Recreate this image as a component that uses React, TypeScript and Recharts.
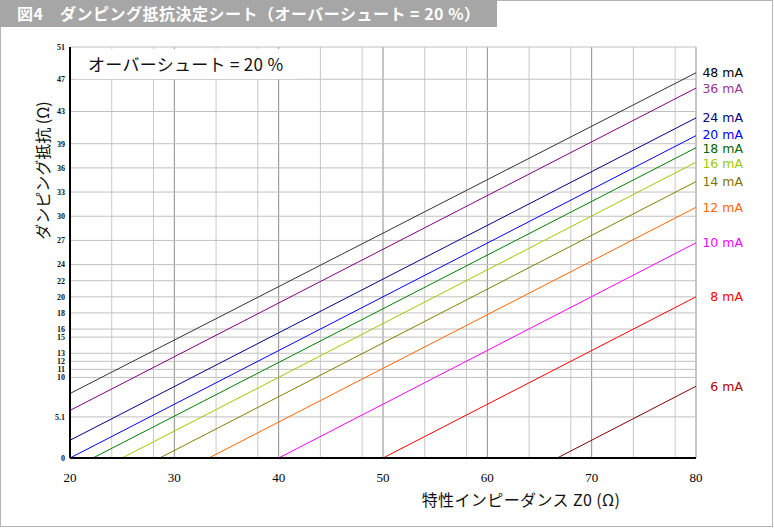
import React from 'react';
import { LineChart, Line, XAxis, YAxis, CartesianGrid, LabelList, Label } from 'recharts';

// overshoot 20 % damping resistor sheet
const currents = ['48 mA', '36 mA', '24 mA', '20 mA', '18 mA', '16 mA', '14 mA', '12 mA', '10 mA', '8 mA', '6 mA'];
const lineColors = ['#333333', '#800080', '#000080', '#0000ff', '#008000', '#99cc00', '#808000', '#ff6600', '#ff00ff', '#ff0000', '#800000'];
const labelColors = ['#000000', '#993399', '#000080', '#0000ff', '#006600', '#99cc00', '#807000', '#ff6600', '#ff00ff', '#ff0000', '#b00000'];
const startZ = [20, 20, 20, 20, 22.2, 25, 28.6, 33.3, 40, 50, 66.7];
const startR = [8.0, 5.9, 2.2, 0, 0, 0, 0, 0, 0, 0, 0];
const endZ = [80, 80, 80, 80, 80, 80, 80, 80, 80, 80, 80];
const endR = [47.8, 45.9, 42.2, 40.0, 38.5, 36.7, 34.3, 31.1, 26.7, 20.0, 8.9];
// small nudges so the crowded labels at the right edge don't collide
const labelNudge = [0, 0, 0, -1, 1, 1, 0, 0, 0, 0, 0];

const xTicks = [20, 30, 40, 50, 60, 70, 80];
const xMinorGrid = [22, 24, 26, 28, 32, 34, 36, 38, 42, 44, 46, 48, 52, 54, 56, 58, 62, 64, 66, 68, 72, 74, 76, 78];
const yTicks = [0, 5.1, 10, 11, 12, 13, 15, 16, 18, 20, 22, 24, 27, 30, 33, 36, 39, 43, 47, 51];

const JP = '"Noto Sans CJK JP", "Noto Sans", sans-serif';

const App: React.FC = () => {
  const series = currents.map((name, i) => ({
    name,
    color: lineColors[i],
    labelColor: labelColors[i],
    nudge: labelNudge[i],
    data: [
      { z: startZ[i], r: startR[i] },
      { z: endZ[i], r: endR[i] },
    ],
  }));

  return (
    <div style={{ position: 'absolute', left: 0, top: 0, width: 774, height: 528, background: '#fff' }}>
      <div style={{ position: 'absolute', left: 0, top: 0, width: 773, height: 527, border: '1px solid #b4b4b4', boxSizing: 'border-box' }} />
      <div
        style={{
          position: 'absolute', left: 0, top: 0, width: 497, height: 27, background: '#a6a6a6',
          color: '#fff', fontFamily: JP, fontWeight: 'bold', fontSize: 16, lineHeight: '27px', paddingLeft: 17,
          boxSizing: 'border-box', whiteSpace: 'pre', letterSpacing: 0.5,
        }}
      >
        図4　ダンピング抵抗決定シート（オーバーシュート = 20 %）
      </div>
      <div style={{ position: 'absolute', left: 0, top: 0 }}>
        <LineChart width={774} height={528} margin={{ top: 47, right: 78, bottom: 0, left: 0 }}>
          <CartesianGrid horizontal={false} verticalValues={xMinorGrid} stroke="#c8c8c8" />
          <CartesianGrid horizontal={false} verticalValues={xTicks} stroke="#8c8c8c" />
          <CartesianGrid vertical={false} horizontalValues={yTicks} stroke="#c0c0c0" />
          <XAxis
            type="number"
            dataKey="z"
            domain={[20, 80]}
            ticks={xTicks}
            allowDataOverflow
            height={70}
            tickSize={0}
            tickMargin={15}
            axisLine={{ stroke: '#000', strokeWidth: 2 }}
            tick={{ fontFamily: '"Liberation Serif", serif', fontSize: 13, fill: '#000' }}
          >
            <Label
              content={(p: any) => (
                <text x={p.viewBox.x + p.viewBox.width / 2 + 138} y={p.viewBox.y + 48} textAnchor="middle"
                  fill="#111" style={{ fontFamily: JP, fontSize: 16, letterSpacing: 0.4 }}>
                  特性インピーダンス Z0 (Ω)
                </text>
              )}
            />
          </XAxis>
          <YAxis
            type="number"
            dataKey="r"
            domain={[0, 51]}
            ticks={yTicks}
            interval={0}
            allowDataOverflow
            width={70}
            tickSize={0}
            tickMargin={5}
            axisLine={{ stroke: '#000', strokeWidth: 2 }}
            tick={{ fontFamily: '"Liberation Serif", serif', fontSize: 8, fontWeight: 'bold', fill: '#111' }}
          >
            <Label
              content={(p: any) => {
                const cx = 49;
                const cy = p.viewBox.y + p.viewBox.height / 2 - 82;
                return (
                  <text x={cx} y={cy} textAnchor="middle" transform={`rotate(-90 ${cx} ${cy})`}
                    fill="#111" style={{ fontFamily: JP, fontSize: 16 }}>
                    ダンピング抵抗 (Ω)
                  </text>
                );
              }}
            />
          </YAxis>
          {series.map((s) => (
            <Line
              key={s.name}
              data={s.data}
              dataKey="r"
              type="linear"
              stroke={s.color}
              strokeWidth={1}
              dot={false}
              isAnimationActive={false}
            >
              <LabelList
                dataKey="r"
                content={(p: any) =>
                  p.index === s.data.length - 1 ? (
                    <text x={p.x + 47} y={p.y + s.nudge} dy={4.5} textAnchor="end" fill={s.labelColor}
                      style={{ fontFamily: '"DejaVu Sans", sans-serif', fontSize: 12.5 }}>
                      {s.name}
                    </text>
                  ) : null
                }
              />
            </Line>
          ))}
        </LineChart>
      </div>
      <div
        style={{
          position: 'absolute', left: 75, top: 49, width: 222, height: 30, background: '#fff',
          fontFamily: JP, fontSize: 17, lineHeight: '30px', paddingLeft: 13, boxSizing: 'border-box',
          color: '#111', whiteSpace: 'pre', letterSpacing: 0.3,
        }}
      >
        オーバーシュート = 20 %
      </div>
    </div>
  );
};

export default App;
